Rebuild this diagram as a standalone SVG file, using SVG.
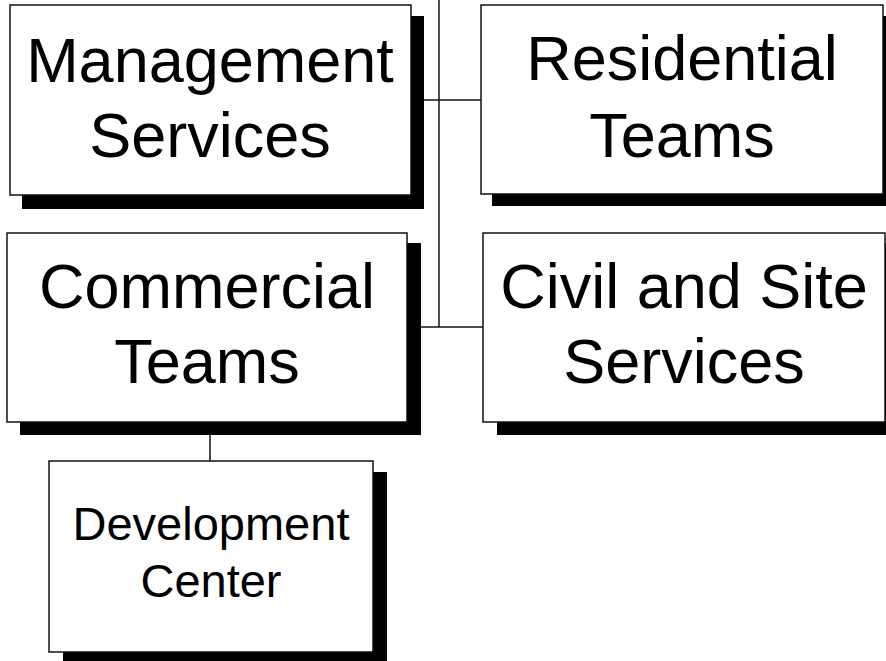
<svg xmlns="http://www.w3.org/2000/svg" width="886" height="661" viewBox="0 0 886 661">
<style>
.shadow{fill:#000}
.box{fill:#fff;stroke:#111;stroke-width:1.5}
.lbl{font-family:"Liberation Sans",Arial,sans-serif;font-size:63px;fill:#000;text-anchor:middle}
.sm{font-size:47px}
.conn{stroke:#111;stroke-width:1.5;fill:none}
</style>
<rect width="886" height="661" fill="#fff"/>
<g id="connectors">
<line class="conn" x1="439" y1="0" x2="439" y2="327"/>
<line class="conn" x1="424" y1="100" x2="481" y2="100"/>
<line class="conn" x1="421" y1="327" x2="483" y2="327"/>
<line class="conn" x1="210" y1="435" x2="210" y2="461"/>
</g>
<g id="management">
<rect class="shadow" x="22" y="16" width="402" height="193"/>
<rect class="box" x="10" y="5" width="401" height="190"/>
<text class="lbl" x="210" y="82">Management</text>
<text class="lbl" x="210" y="157">Services</text>
</g>
<g id="residential">
<rect class="shadow" x="492" y="16" width="400" height="190"/>
<rect class="box" x="481" y="5" width="402" height="189"/>
<text class="lbl" x="682" y="80">Residential</text>
<text class="lbl" x="682" y="157">Teams</text>
</g>
<g id="commercial">
<rect class="shadow" x="20" y="243" width="401" height="192"/>
<rect class="box" x="7" y="233" width="400" height="189"/>
<text class="lbl" x="207" y="308">Commercial</text>
<text class="lbl" x="207" y="383">Teams</text>
</g>
<g id="civil">
<rect class="shadow" x="497" y="243" width="400" height="192"/>
<rect class="box" x="483" y="233" width="402" height="189"/>
<text class="lbl" x="684" y="308">Civil and Site</text>
<text class="lbl" x="684" y="383">Services</text>
</g>
<g id="development">
<rect class="shadow" x="63" y="472" width="324" height="200"/>
<rect class="box" x="49" y="461" width="324" height="191"/>
<text class="lbl sm" x="211" y="540">Development</text>
<text class="lbl sm" x="211" y="597">Center</text>
</g>
</svg>
